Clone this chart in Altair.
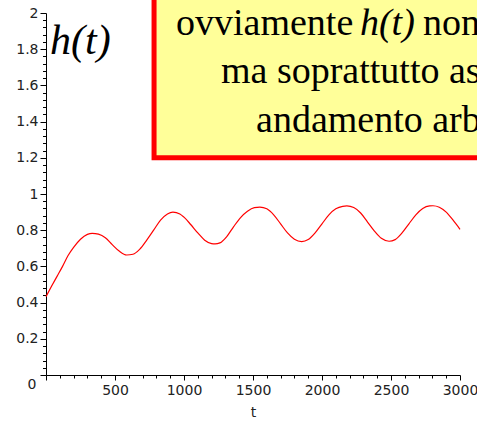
import altair as alt
import pandas as pd

# curve h(t)
t_vals = [0, 40, 80, 120, 160, 200, 250, 300, 335, 380, 430, 480, 530, 585, 630, 680,
          730, 780, 830, 880, 920, 970, 1000, 1050, 1100, 1150, 1200, 1225, 1260, 1310,
          1360, 1410, 1460, 1510, 1550, 1600, 1650, 1700, 1750, 1800, 1853, 1900, 1950,
          2000, 2050, 2100, 2150, 2180, 2230, 2280, 2330, 2380, 2430, 2486, 2530, 2580,
          2630, 2680, 2730, 2780, 2804, 2850, 2900, 2950, 3000]
h_vals = [0.433, 0.49, 0.545, 0.60, 0.66, 0.705, 0.75, 0.777, 0.783, 0.778, 0.758, 0.72,
          0.685, 0.663, 0.667, 0.695, 0.745, 0.80, 0.856, 0.89, 0.90, 0.89, 0.872, 0.83,
          0.785, 0.745, 0.726, 0.724, 0.73, 0.765, 0.82, 0.87, 0.905, 0.925, 0.928, 0.918,
          0.885, 0.835, 0.785, 0.75, 0.737, 0.748, 0.785, 0.835, 0.885, 0.918, 0.932,
          0.934, 0.925, 0.895, 0.845, 0.795, 0.755, 0.739, 0.748, 0.785, 0.835, 0.885,
          0.92, 0.934, 0.935, 0.927, 0.90, 0.855, 0.805]

# tick positions
x_ticks = list(range(0, 3001, 100))
y_ticks = [round(i * 0.04, 2) for i in range(51)]

# annotation box (data coordinates) and its text
box_t = [783]
box_t2 = [3400]
box_v = [1.2]
box_v2 = [2.3]

note_text = ["ovviamente", "non è nota", "ma soprattutto assume", "andamento arbitrario"]
note_t = [942, 2732, 1268, 1522]
note_v = [1.878, 1.878, 1.613, 1.3425]

ital_text = ["h(t)"]
ital_t = [2275]
ital_v = [1.878]

label_text = ["h(t)"]
label_t = [29]
label_v = [1.775]

curve = pd.DataFrame({"t": t_vals, "v": h_vals})
box = pd.DataFrame({"t": box_t, "t2": box_t2, "v": box_v, "v2": box_v2})
notes = pd.DataFrame({"t": note_t, "v": note_v, "txt": note_text})
itals = pd.DataFrame({"t": ital_t, "v": ital_v, "txt": ital_text})
lab = pd.DataFrame({"t": label_t, "v": label_v, "txt": label_text})

xs = alt.Scale(domain=[0, 3000], nice=False, zero=False)
ys = alt.Scale(domain=[0, 2], nice=False)

xaxis = alt.Axis(
    values=x_ticks, title="t", format="d",
    labelExpr="(datum.value % 500 == 0 && datum.value > 0) ? datum.label : ''",
    tickSize={"condition": {"test": "datum.value % 500 == 0", "value": 5}, "value": 3},
    grid=False, labelFlush=False, labelOverlap=False, labelPadding=3,
    labelFont="DejaVu Sans", labelFontSize=14, labelColor="#222",
    titleFont="DejaVu Sans", titleFontSize=14, titleFontWeight="normal", titleColor="#222",
    titlePadding=8, domainColor="black", tickColor="black",
)
yaxis = alt.Axis(
    values=y_ticks, title=None, format="~g",
    labelExpr="(round(datum.value * 100) % 20 == 0) ? datum.label : ''",
    tickSize={"condition": {"test": "round(datum.value * 100) % 20 == 0", "value": 6}, "value": 3.5},
    labelOffset={"condition": {"test": "datum.value == 0", "value": 9}, "value": 0},
    labelPadding={"condition": {"test": "datum.value == 0", "value": 4}, "value": 2},
    grid=False, labelFlush=False, labelOverlap=False,
    labelFont="DejaVu Sans", labelFontSize=14, labelColor="#222",
    domainColor="black", tickColor="black",
)

X = alt.X("t:Q", scale=xs, axis=xaxis)
Y = alt.Y("v:Q", scale=ys, axis=yaxis)

line = alt.Chart(curve).mark_line(color="#ff0000", strokeWidth=1.2, interpolate="monotone").encode(x=X, y=Y)

rect = alt.Chart(box).mark_rect(fill="#ffff99", stroke="#ff0000", strokeWidth=5).encode(
    x=X, x2="t2:Q", y=Y, y2="v2:Q")

note = alt.Chart(notes).mark_text(
    font="Liberation Serif", fontSize=38, align="left", baseline="alphabetic", color="black"
).encode(x=X, y=Y, text="txt:N")

ital = alt.Chart(itals).mark_text(
    font="Liberation Serif", fontSize=38, fontStyle="italic", align="left",
    baseline="alphabetic", color="black"
).encode(x=X, y=Y, text="txt:N")

hlabel = alt.Chart(lab).mark_text(
    font="Liberation Serif", fontSize=42, fontStyle="italic", align="left",
    baseline="alphabetic", color="black"
).encode(x=X, y=Y, text="txt:N")

chart = alt.layer(line, rect, note, ital, hlabel).properties(
    width=414, height=362,
    autosize=alt.AutoSizeParams(type="none"),
    padding={"left": 46, "top": 13, "right": 17, "bottom": 49},
    background="white",
).configure_view(stroke=None)

chart.save("out.html", embed_options={"renderer": "svg", "actions": False})
